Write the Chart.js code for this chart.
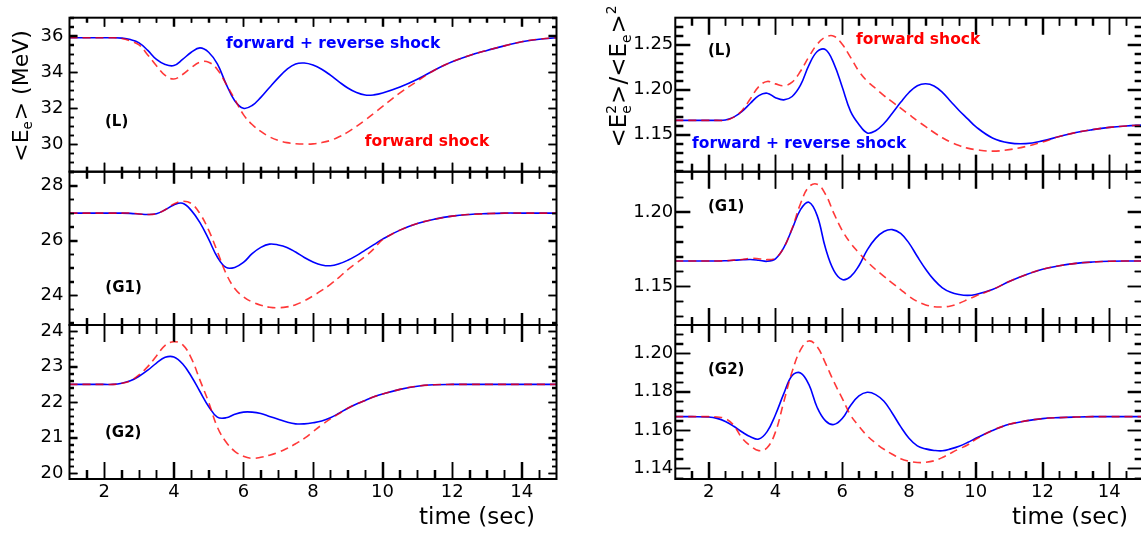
<!DOCTYPE html>
<html lang="en">

<head>
    <meta charset="UTF-8" />
    <meta name="viewport" content="width=device-width, initial-scale=1.0" />
    <title>Mean energy with forward and reverse shocks</title>
    <script src="https://cdn.jsdelivr.net/npm/chart.js"></script>
    <style>
        * {
            margin: 0;
            padding: 0;
            box-sizing: border-box;
        }

        body {
            width: 1141px;
            height: 539px;
            overflow: hidden;
            background: #ffffff;
            position: relative;
        }

        .panel {
            position: absolute;
        }
    </style>
</head>

<body>
    <script>
        // time grid shared by every curve (sec)
        const timeSec = [1, 1.5, 2, 2.25, 2.5, 2.75, 3, 3.25, 3.5, 3.75, 4, 4.25, 4.5, 4.75, 5, 5.25, 5.5, 5.75, 6, 6.25, 6.5, 6.75, 7, 7.25, 7.5, 7.75, 8, 8.25, 8.5, 8.75, 9, 9.25, 9.5, 9.75, 10, 10.5, 11, 11.5, 12, 12.5, 13, 13.5, 14, 14.5, 15];

        // <E_e> (MeV)
        const meanL_both = [35.9, 35.9, 35.9, 35.9, 35.88, 35.8, 35.62, 35.2, 34.7, 34.42, 34.36, 34.7, 35.1, 35.34, 35.1, 34.45, 33.35, 32.42, 32.0, 32.15, 32.6, 33.15, 33.68, 34.15, 34.45, 34.5, 34.39, 34.16, 33.83, 33.46, 33.12, 32.87, 32.73, 32.74, 32.84, 33.17, 33.6, 34.12, 34.57, 34.92, 35.2, 35.45, 35.68, 35.82, 35.9];
        const meanL_fwd = [35.9, 35.9, 35.9, 35.9, 35.86, 35.72, 35.5, 34.95, 34.35, 33.82, 33.62, 33.87, 34.25, 34.55, 34.55, 34.15, 33.35, 32.5, 31.65, 31.1, 30.72, 30.42, 30.22, 30.1, 30.04, 30.02, 30.03, 30.1, 30.22, 30.42, 30.68, 31.0, 31.35, 31.72, 32.1, 32.85, 33.5, 34.12, 34.57, 34.92, 35.2, 35.45, 35.68, 35.82, 35.9];
        const meanG1_both = [27.0, 27.0, 27.0, 27.0, 27.0, 26.99, 26.97, 26.95, 26.98, 27.12, 27.3, 27.36, 27.1, 26.65, 26.05, 25.4, 25.02, 25.02, 25.2, 25.52, 25.75, 25.87, 25.84, 25.75, 25.58, 25.38, 25.22, 25.11, 25.08, 25.15, 25.28, 25.45, 25.65, 25.85, 26.05, 26.38, 26.62, 26.78, 26.89, 26.95, 26.98, 27.0, 27.0, 27.0, 27.0];
        const meanG1_fwd = [27.0, 27.0, 27.0, 27.0, 27.0, 27.0, 26.97, 26.95, 26.98, 27.12, 27.33, 27.43, 27.35, 26.98, 26.38, 25.6, 24.8, 24.25, 23.95, 23.76, 23.64, 23.57, 23.55, 23.58, 23.66, 23.8, 23.98, 24.18, 24.4, 24.66, 24.94, 25.18, 25.42, 25.7, 26.03, 26.38, 26.62, 26.78, 26.89, 26.95, 26.98, 27.0, 27.0, 27.0, 27.0];
        const meanG2_both = [22.5, 22.5, 22.5, 22.5, 22.53, 22.6, 22.73, 22.9, 23.1, 23.26, 23.27, 23.08, 22.73, 22.3, 21.88, 21.58, 21.56, 21.66, 21.72, 21.72, 21.68, 21.6, 21.52, 21.44, 21.39, 21.39, 21.42, 21.47, 21.56, 21.69, 21.83, 21.95, 22.05, 22.15, 22.23, 22.36, 22.45, 22.49, 22.5, 22.5, 22.5, 22.5, 22.5, 22.5, 22.5];
        const meanG2_fwd = [22.5, 22.5, 22.5, 22.5, 22.53, 22.6, 22.77, 23.0, 23.3, 23.6, 23.7, 23.62, 23.24, 22.62, 22.0, 21.3, 20.88, 20.62, 20.48, 20.42, 20.45, 20.51, 20.59, 20.7, 20.83, 20.98, 21.17, 21.36, 21.53, 21.68, 21.83, 21.95, 22.05, 22.15, 22.23, 22.36, 22.45, 22.49, 22.5, 22.5, 22.5, 22.5, 22.5, 22.5, 22.5];

        // <E_e^2>/<E_e>^2
        const ratioL_both = [1.166, 1.166, 1.166, 1.166, 1.1665, 1.1696, 1.176, 1.185, 1.1935, 1.1962, 1.1912, 1.1888, 1.1925, 1.205, 1.227, 1.2425, 1.2445, 1.229, 1.203, 1.176, 1.1615, 1.152, 1.1545, 1.1625, 1.174, 1.186, 1.197, 1.2045, 1.2067, 1.2042, 1.197, 1.187, 1.177, 1.168, 1.159, 1.1465, 1.141, 1.1402, 1.1432, 1.148, 1.1525, 1.1557, 1.1582, 1.1598, 1.1608];
        const ratioL_fwd = [1.166, 1.166, 1.166, 1.166, 1.166, 1.1696, 1.177, 1.19, 1.2035, 1.2092, 1.2065, 1.2045, 1.2085, 1.2205, 1.2365, 1.2505, 1.2585, 1.2595, 1.2505, 1.236, 1.2205, 1.2095, 1.2015, 1.1935, 1.1865, 1.1795, 1.1725, 1.1655, 1.159, 1.1525, 1.1467, 1.1418, 1.138, 1.1352, 1.1335, 1.1318, 1.1335, 1.137, 1.142, 1.148, 1.1525, 1.1557, 1.1582, 1.1598, 1.1608];
        const ratioG1_both = [1.167, 1.167, 1.167, 1.167, 1.1672, 1.1675, 1.1678, 1.168, 1.1675, 1.1668, 1.1685, 1.176, 1.1885, 1.2015, 1.2065, 1.1975, 1.1755, 1.1605, 1.1545, 1.1565, 1.1638, 1.1745, 1.1822, 1.1868, 1.1881, 1.1855, 1.179, 1.17, 1.1615, 1.1543, 1.149, 1.146, 1.1445, 1.1439, 1.1445, 1.1478, 1.1532, 1.1578, 1.1615, 1.1638, 1.1654, 1.1663, 1.1668, 1.167, 1.167];
        const ratioG1_fwd = [1.167, 1.167, 1.167, 1.167, 1.1672, 1.1676, 1.168, 1.1688, 1.1685, 1.1679, 1.169, 1.176, 1.189, 1.2055, 1.2168, 1.2186, 1.2118, 1.199, 1.1875, 1.179, 1.1725, 1.1665, 1.1613, 1.1567, 1.1522, 1.1478, 1.1433, 1.1398, 1.1375, 1.1363, 1.1361, 1.1368, 1.1386, 1.141, 1.1435, 1.1478, 1.1532, 1.1578, 1.1615, 1.1638, 1.1654, 1.1663, 1.1668, 1.167, 1.167];
        const ratioG2_both = [1.167, 1.167, 1.1668, 1.1661, 1.1645, 1.162, 1.159, 1.1565, 1.1553, 1.1592, 1.168, 1.179, 1.1885, 1.1898, 1.1838, 1.1718, 1.1648, 1.1629, 1.166, 1.1728, 1.1778, 1.1797, 1.1785, 1.175, 1.1688, 1.1618, 1.1558, 1.1518, 1.1502, 1.1494, 1.1492, 1.1502, 1.1516, 1.1535, 1.1557, 1.1598, 1.163, 1.1648, 1.166, 1.1665, 1.1668, 1.167, 1.167, 1.167, 1.167];
        const ratioG2_fwd = [1.167, 1.167, 1.167, 1.1668, 1.166, 1.1625, 1.1558, 1.1518, 1.1493, 1.1508, 1.159, 1.1748, 1.1905, 1.2018, 1.2065, 1.2035, 1.1948, 1.1852, 1.1765, 1.1678, 1.162, 1.157, 1.1532, 1.15, 1.1474, 1.1451, 1.1438, 1.1431, 1.1432, 1.144, 1.1457, 1.148, 1.1502, 1.1522, 1.1552, 1.1598, 1.163, 1.1648, 1.166, 1.1665, 1.1668, 1.167, 1.167, 1.167, 1.167];

        // tick labels
        const xTickLabels = [2, 4, 6, 8, 10, 12, 14];
        const yTicksMeanL = [30, 32, 34, 36];
        const yTicksMeanG1 = [24, 26, 28];
        const yTicksMeanG2 = [20, 21, 22, 23, 24];
        const yTicksRatioL = [1.15, 1.20, 1.25];
        const yTicksRatioG1 = [1.15, 1.20];
        const yTicksRatioG2 = [1.14, 1.16, 1.18, 1.20];

        const BLUE = "#0000ff";
        const RED = "rgba(255, 0, 0, 0.78)";
        const TICK = "#000000";
        const FONT = "'DejaVu Sans', sans-serif";

        // page layout of the six frames
        const COLS = [
            { left: 0, width: 570, axisW: 69.5, padRight: 13.5, yLen: [8, 4.5], xLen: [[9, 5], [12, 7], [17, 9]], labelPad: 6, timeDx: -21.5 },
            { left: 570, width: 580, axisW: 105.3, padRight: 7.3, yLen: [15, 8], xLen: [[17, 8], [17, 8], [17, 8]], labelPad: 2, timeDx: -14.7 }
        ];
        const ROWS = [
            { top: 0, height: 186, padTop: 17.7, padBottom: 14.3, xAxisH: 0 },
            { top: 158, height: 181, padTop: 13.7, padBottom: 14, xAxisH: 0 },
            { top: 311, height: 228, padTop: 14, padBottom: 0, xAxisH: 60 }
        ];

        // minor tick positions between min and max, skipping the majors
        function minorTicks(min, max, step, majorStep) {
            const out = [];
            for (let n = Math.ceil(min / step + 1e-6); n * step < max - 1e-6; n++) {
                const v = n * step;
                if (Math.abs(v / majorStep - Math.round(v / majorStep)) > 1e-6) out.push(v);
            }
            return out;
        }

        // helper axis that only draws inward tick marks (negative tick length)
        function tickAxis(position, min, max, values, len) {
            const horizontal = position === "top" || position === "bottom";
            return {
                type: "linear",
                position: position,
                axis: horizontal ? "x" : "y",
                min: min,
                max: max,
                weight: -1,
                grid: { display: true, drawOnChartArea: false, drawTicks: true, tickLength: -len, tickColor: TICK, tickWidth: 1.5 },
                border: { display: false },
                ticks: { display: false },
                afterBuildTicks: (s) => { s.ticks = values.map((v) => ({ value: v })); },
                afterFit: (s) => {
                    if (horizontal) {
                        s.height = 0;
                        s.paddingLeft = 0;
                        s.paddingRight = 0;
                    } else {
                        s.width = 0;
                        s.paddingTop = 0;
                        s.paddingBottom = 0;
                    }
                }
            };
        }

        // E with sub/superscripts, drawn rotated for the y titles
        function drawRich(ctx, parts, cx, cy, size) {
            const big = `${size}px ${FONT}`;
            const little = `${size * 0.6}px ${FONT}`;
            const widthOf = (p) => {
                if (typeof p === "string") {
                    ctx.font = big;
                    return ctx.measureText(p).width;
                }
                ctx.font = little;
                return Math.max(p.sub ? ctx.measureText(p.sub).width : 0, p.sup ? ctx.measureText(p.sup).width : 0) + 1;
            };
            const total = parts.reduce((w, p) => w + widthOf(p), 0);
            ctx.save();
            ctx.translate(cx, cy);
            ctx.rotate(-Math.PI / 2);
            ctx.fillStyle = "#000";
            ctx.textAlign = "left";
            ctx.textBaseline = "alphabetic";
            const base = size * 0.36;
            let pos = -total / 2;
            parts.forEach((p) => {
                const w = widthOf(p);
                if (typeof p === "string") {
                    ctx.font = big;
                    ctx.fillText(p, pos, base);
                } else {
                    ctx.font = little;
                    if (p.sub) ctx.fillText(p.sub, pos, base + size * 0.2);
                    if (p.sup) ctx.fillText(p.sup, pos, base - size * 0.45);
                }
                pos += w;
            });
            ctx.restore();
        }

        // frame box with inward ticks, labels in data units, axis titles
        function makeDecor(cfg, notes, title) {
            return {
                id: "decor",
                afterDraw(chart) {
                    const { ctx, chartArea: a, scales: { x, y } } = chart;
                    ctx.save();
                    ctx.strokeStyle = TICK;
                    ctx.lineWidth = 1.5;
                    const xs = [[xTickLabels, cfg.xLen[0]], [cfg.xMinor, cfg.xLen[1]]];
                    xs.forEach(([vals, len]) => {
                        vals.forEach((v) => {
                            const px = Math.round(x.getPixelForValue(v)) + 0.5;
                            ctx.strokeRect(px, a.bottom - len, 0, len);
                            ctx.strokeRect(px, a.top, 0, len);
                        });
                    });
                    const ys = [[cfg.yMajor, cfg.yLen[0]], [cfg.yMinor, cfg.yLen[1]]];
                    ys.forEach(([vals, len]) => {
                        vals.forEach((v) => {
                            const py = Math.round(y.getPixelForValue(v)) + 0.5;
                            ctx.strokeRect(a.left, py, len, 0);
                            ctx.strokeRect(a.right - len, py, len, 0);
                        });
                    });
                    ctx.strokeStyle = "#000";
                    ctx.lineWidth = 2;
                    ctx.strokeRect(a.left, a.top, a.right - a.left, a.bottom - a.top);
                    notes.forEach((n) => {
                        ctx.font = n.font;
                        ctx.fillStyle = n.color;
                        ctx.textAlign = n.align || "left";
                        ctx.textBaseline = "middle";
                        const px = n.t !== undefined ? x.getPixelForValue(n.t) : a.right + n.dx;
                        const py = n.v !== undefined ? y.getPixelForValue(n.v) : a.bottom + n.dy;
                        ctx.fillText(n.text, px, py);
                    });
                    if (title) drawRich(ctx, title.parts, title.cx, title.cy, title.size);
                    ctx.restore();
                }
            };
        }

        const boldNote = `bold 15.5px ${FONT}`;
        const tagFont = `bold 15px ${FONT}`;

        const panels = [
            {
                col: 0, row: 0, fwd: meanL_fwd, both: meanL_both, yMin: 28.49, yMax: 37.01, yTicks: yTicksMeanL, yMajor: 2, yMinor: 0.5, digits: 0,
                notes: [
                    { text: "forward + reverse shock", t: 5.5, v: 35.56, color: BLUE, font: boldNote },
                    { text: "forward shock", t: 9.49, v: 30.15, color: "#ff0000", font: boldNote },
                    { text: "(L)", t: 2.02, v: 31.26, color: "#000", font: tagFont }
                ],
                title: { parts: ["<E", { sub: "e" }, "> (MeV)"], cx: 20, cy: 96, size: 22 }
            },
            {
                col: 0, row: 1, fwd: meanG1_fwd, both: meanG1_both, yMin: 22.92, yMax: 28.51, yTicks: yTicksMeanG1, yMajor: 2, yMinor: 0.5, digits: 0,
                notes: [{ text: "(G1)", t: 2.03, v: 24.26, color: "#000", font: tagFont }]
            },
            {
                col: 0, row: 2, fwd: meanG2_fwd, both: meanG2_both, yMin: 19.84, yMax: 24.17, yTicks: yTicksMeanG2, yMajor: 1, yMinor: 0.2, digits: 0,
                notes: [{ text: "(G2)", t: 2.02, v: 21.13, color: "#000", font: tagFont }]
            },
            {
                col: 1, row: 0, fwd: ratioL_fwd, both: ratioL_both, yMin: 1.109, yMax: 1.280, yTicks: yTicksRatioL, yMajor: 0.05, yMinor: 0.01, digits: 2,
                notes: [
                    { text: "(L)", t: 1.98, v: 1.2426, color: "#000", font: tagFont },
                    { text: "forward shock", t: 6.41, v: 1.2556, color: "#ff0000", font: boldNote },
                    { text: "forward + reverse shock", t: 1.5, v: 1.1397, color: BLUE, font: boldNote }
                ],
                title: { parts: ["<E", { sub: "e", sup: "2" }, ">/<E", { sub: "e" }, ">", { sup: "2" }], cx: 48, cy: 76, size: 23 }
            },
            {
                col: 1, row: 1, fwd: ratioG1_fwd, both: ratioG1_both, yMin: 1.124, yMax: 1.227, yTicks: yTicksRatioG1, yMajor: 0.05, yMinor: 0.01, digits: 2,
                notes: [{ text: "(G1)", t: 1.98, v: 1.2034, color: "#000", font: tagFont }]
            },
            {
                col: 1, row: 2, fwd: ratioG2_fwd, both: ratioG2_both, yMin: 1.1345, yMax: 1.2148, yTicks: yTicksRatioG2, yMajor: 0.02, yMinor: 0.005, digits: 2,
                notes: [{ text: "(G2)", t: 1.98, v: 1.1913, color: "#000", font: tagFont }]
            }
        ];

        function buildPanel(p) {
            const c = COLS[p.col];
            const r = ROWS[p.row];
            const bottomRow = p.row === 2;

            const box = document.createElement("div");
            box.className = "panel";
            box.style.left = c.left + "px";
            box.style.top = r.top + "px";
            box.style.width = c.width + "px";
            box.style.height = r.height + "px";
            const canvas = document.createElement("canvas");
            box.appendChild(canvas);
            document.body.appendChild(box);

            const notes = p.notes.slice();
            if (bottomRow) {
                notes.push({ text: "time (sec)", dx: c.timeDx, dy: 39, align: "right", color: "#000", font: `23px ${FONT}` });
            }

            const xLen = c.xLen[p.row];
            const xMinor = minorTicks(1, 15, 0.5, 2);
            const yMinor = minorTicks(p.yMin, p.yMax, p.yMinor, p.yMajor);
            const decor = makeDecor({ xLen: xLen, xMinor: xMinor, yMajor: p.yTicks, yMinor: yMinor, yLen: c.yLen }, notes, p.title);

            return new Chart(canvas, {
                type: "line",
                data: {
                    datasets: [
                        {
                            label: "forward shock",
                            data: timeSec.map((t, i) => ({ x: t, y: p.fwd[i] })),
                            borderColor: RED,
                            borderWidth: 1.6,
                            borderDash: [8, 5],
                            pointRadius: 0,
                            tension: 0.4,
                            fill: false
                        },
                        {
                            label: "forward + reverse shock",
                            data: timeSec.map((t, i) => ({ x: t, y: p.both[i] })),
                            borderColor: BLUE,
                            borderWidth: 1.6,
                            pointRadius: 0,
                            tension: 0.4,
                            fill: false
                        }
                    ]
                },
                options: {
                    responsive: true,
                    maintainAspectRatio: false,
                    animation: false,
                    events: [],
                    layout: { padding: { left: 0, right: c.padRight, top: r.padTop, bottom: r.padBottom } },
                    scales: {
                        x: {
                            type: "linear",
                            min: 1,
                            max: 15,
                            grid: { display: false, drawTicks: false },
                            border: { display: false },
                            afterBuildTicks: (s) => { s.ticks = xTickLabels.map((v) => ({ value: v })); },
                            ticks: { display: bottomRow, color: "#000", font: { family: FONT, size: 18 }, padding: 3, maxRotation: 0, autoSkip: false },
                            afterFit: (s) => { s.height = r.xAxisH; s.paddingLeft = 0; s.paddingRight = 0; }
                        },
                        y: {
                            type: "linear",
                            min: p.yMin,
                            max: p.yMax,
                            grid: { display: false, drawTicks: false },
                            border: { display: false },
                            afterBuildTicks: (s) => { s.ticks = p.yTicks.map((v) => ({ value: v })); },
                            ticks: { color: "#000", font: { family: FONT, size: 18 }, padding: c.labelPad, callback: (v) => Number(v).toFixed(p.digits) },
                            afterFit: (s) => { s.width = c.axisW; s.paddingTop = 0; s.paddingBottom = 0; }
                        },
                        xMajBottom: tickAxis("bottom", 1, 15, xTickLabels, xLen[0]),
                        xMinBottom: tickAxis("bottom", 1, 15, xMinor, xLen[1]),
                        xMajTop: tickAxis("top", 1, 15, xTickLabels, xLen[0]),
                        xMinTop: tickAxis("top", 1, 15, xMinor, xLen[1]),
                        yMajLeft: tickAxis("left", p.yMin, p.yMax, p.yTicks, c.yLen[0]),
                        yMinLeft: tickAxis("left", p.yMin, p.yMax, yMinor, c.yLen[1]),
                        yMajRight: tickAxis("right", p.yMin, p.yMax, p.yTicks, c.yLen[0]),
                        yMinRight: tickAxis("right", p.yMin, p.yMax, yMinor, c.yLen[1])
                    },
                    plugins: {
                        legend: { display: false },
                        tooltip: { enabled: false }
                    }
                },
                plugins: [decor]
            });
        }

        panels.forEach(buildPanel);
    </script>
</body>

</html>
